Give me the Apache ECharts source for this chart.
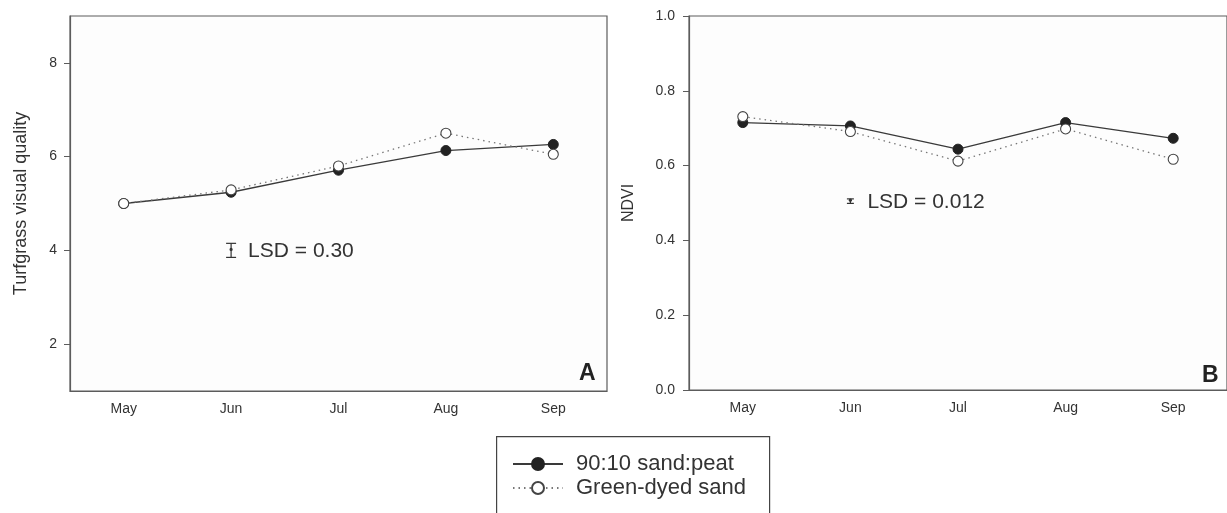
<!DOCTYPE html>
<html lang="en">
<head>
    <meta charset="UTF-8">
    <title>Turfgrass quality and NDVI</title>
    <script src="https://cdn.jsdelivr.net/npm/echarts@6/dist/echarts.min.js"></script>
    <style>
        html, body { margin: 0; padding: 0; background: #fff; }
        #chart { width: 1227px; height: 513px; }
    </style>
</head>
<body>
<div id="chart"></div>
<script type="text/javascript">
    // ---- data ----
    var months = ['May', 'Jun', 'Jul', 'Aug', 'Sep'];

    // panel A: turfgrass visual quality
    var qualityPeat = [5.0, 5.24, 5.71, 6.13, 6.26];
    var qualityDyed = [5.0, 5.29, 5.80, 6.50, 6.05];
    var qualityTicks = [2, 4, 6, 8];
    var qualityLsd = [['Jun', 4.0, 0.30]];

    // panel B: NDVI
    var ndviPeat = [0.715, 0.706, 0.644, 0.715, 0.673];
    var ndviDyed = [0.731, 0.691, 0.612, 0.698, 0.617];
    var ndviLsd = [['Jun', 0.505, 0.012]];

    var names = ['90:10 sand:peat', 'Green-dyed sand'];

    var FONT = 'Liberation Sans, Arial, sans-serif';
    var AXIS = '#5c5c5c';
    var TXT = '#333';

    // error bar + "LSD = x" text, positioned through the axis scales
    function lsdRenderer(capHalf, digits) {
        return function (params, api) {
            var x = api.value(0), c = api.value(1), h = api.value(2) / 2;
            var mid = api.coord([x, c]);
            var top = api.coord([x, c + h]);
            var bot = api.coord([x, c - h]);
            var st = { stroke: '#333', lineWidth: 1.2 };
            return {
                type: 'group',
                children: [
                    { type: 'line', shape: { x1: mid[0], y1: top[1], x2: mid[0], y2: bot[1] }, style: st },
                    { type: 'line', shape: { x1: mid[0] - capHalf, y1: top[1], x2: mid[0] + capHalf, y2: top[1] }, style: st },
                    { type: 'line', shape: { x1: mid[0] - capHalf, y1: bot[1], x2: mid[0] + capHalf, y2: bot[1] }, style: st },
                    { type: 'circle', shape: { cx: mid[0], cy: mid[1] - 1, r: 1.6 }, style: { fill: '#333' } },
                    {
                        type: 'text',
                        x: mid[0] + 17, y: mid[1] + 1,
                        style: {
                            text: 'LSD = ' + api.value(2).toFixed(digits),
                            font: '21px ' + FONT, fill: TXT,
                            textVerticalAlign: 'middle', textAlign: 'left'
                        }
                    }
                ]
            };
        };
    }

    function xAxisOf(grid) {
        return {
            type: 'category', gridIndex: grid, data: months, boundaryGap: true,
            axisLine: { lineStyle: { color: AXIS, width: 1.2 } },
            axisTick: { alignWithLabel: true, length: 5, lineStyle: { color: AXIS } },
            axisLabel: { color: TXT, fontSize: 14, fontFamily: FONT, margin: 11 },
            splitLine: { show: false }
        };
    }

    var peatStyle = {
        type: 'line', symbol: 'circle', symbolSize: 10,
        lineStyle: { color: '#3a3a3a', width: 1.3, type: 'solid' },
        itemStyle: { color: '#222', borderColor: '#222', borderWidth: 1 }
    };
    var dyedStyle = {
        type: 'line', symbol: 'circle', symbolSize: 10,
        lineStyle: { color: '#777', width: 1.3, type: [1.5, 4] },
        itemStyle: { color: '#fff', borderColor: '#444', borderWidth: 1.1 }
    };

    var myChart = echarts.init(document.getElementById('chart'), null, { renderer: 'canvas' });
    var option = {
        animation: false,
        backgroundColor: '#fff',
        textStyle: { fontFamily: FONT },
        grid: [
            { left: 70, top: 16, width: 537, height: 375, show: true, borderColor: AXIS, borderWidth: 1.2, backgroundColor: '#fdfdfd' },
            { left: 689, top: 16, width: 539, height: 374, show: true, borderColor: AXIS, borderWidth: 1.2, backgroundColor: '#fdfdfd' }
        ],
        legend: {
            data: names,
            orient: 'vertical',
            left: 496, top: 436,
            padding: [17, 23, 0, 16],
            itemWidth: 50, itemHeight: 15, itemGap: 2,
            z: 10,
            textStyle: { fontSize: 22, lineHeight: 22, color: TXT, fontFamily: FONT, padding: [0, 0, 0, 8] }
        },
        xAxis: [xAxisOf(0), xAxisOf(1)],
        yAxis: [
            {
                type: 'value', gridIndex: 0, min: 1, max: 9,
                name: 'Turfgrass visual quality', nameLocation: 'middle', nameGap: 40,
                nameTextStyle: { color: TXT, fontSize: 18, fontFamily: FONT },
                axisLine: { show: true, lineStyle: { color: AXIS, width: 1.2 } },
                axisTick: { show: true, length: 6, customValues: qualityTicks, lineStyle: { color: AXIS } },
                axisLabel: { color: TXT, fontSize: 14, fontFamily: FONT, margin: 13, customValues: qualityTicks },
                splitLine: { show: false }
            },
            {
                type: 'value', gridIndex: 1, min: 0, max: 1, interval: 0.2,
                name: 'NDVI', nameLocation: 'middle', nameGap: 52,
                nameTextStyle: { color: TXT, fontSize: 16, fontFamily: FONT },
                axisLine: { show: true, lineStyle: { color: AXIS, width: 1.2 } },
                axisTick: { show: true, length: 6, lineStyle: { color: AXIS } },
                axisLabel: {
                    color: TXT, fontSize: 14, fontFamily: FONT, margin: 14,
                    formatter: function (v) { return v.toFixed(1); }
                },
                splitLine: { show: false }
            }
        ],
        series: [
            Object.assign({ name: names[0], xAxisIndex: 0, yAxisIndex: 0, data: qualityPeat, z: 3 }, peatStyle),
            Object.assign({ name: names[1], xAxisIndex: 0, yAxisIndex: 0, data: qualityDyed, z: 4 }, dyedStyle),
            Object.assign({ name: names[0], xAxisIndex: 1, yAxisIndex: 1, data: ndviPeat, z: 3 }, peatStyle),
            Object.assign({ name: names[1], xAxisIndex: 1, yAxisIndex: 1, data: ndviDyed, z: 4 }, dyedStyle),
            {
                type: 'custom', xAxisIndex: 0, yAxisIndex: 0, data: qualityLsd,
                renderItem: lsdRenderer(5, 2), z: 5
            },
            {
                type: 'custom', xAxisIndex: 1, yAxisIndex: 1, data: ndviLsd,
                renderItem: lsdRenderer(3.5, 3), z: 5
            }
        ],
        graphic: [
            { type: 'text', left: 579, top: 362, style: { text: 'A', font: 'bold 23px ' + FONT, fill: '#222' } },
            { type: 'text', left: 1202, top: 364, style: { text: 'B', font: 'bold 23px ' + FONT, fill: '#222' } },
            // legend frame, running off the bottom of the picture as in the original
            {
                type: 'rect', z: 0, left: 496, top: 436,
                shape: { width: 273, height: 100 },
                style: { fill: '#fff', stroke: '#444', lineWidth: 1.2 }
            }
        ]
    };
    myChart.setOption(option);
</script>
</body>
</html>
